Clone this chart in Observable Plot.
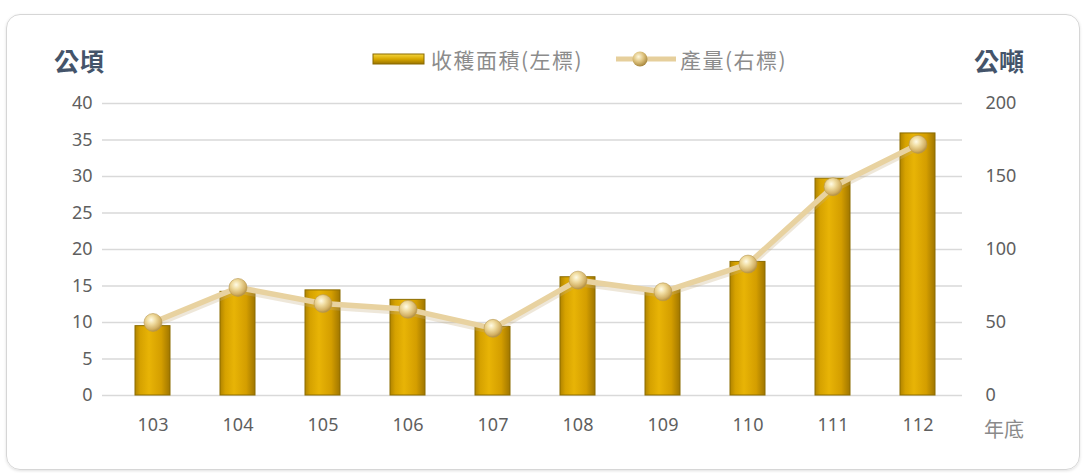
<!DOCTYPE html>
<html>
<head>
<meta charset="utf-8">
<script src="https://cdn.jsdelivr.net/npm/d3@7"></script>
<script src="https://cdn.jsdelivr.net/npm/@observablehq/plot@0.6"></script>
<style>
  html, body { margin: 0; padding: 0; background: #fff; }
  #wrap { position: relative; width: 1084px; height: 473px; overflow: hidden; font-family: "Noto Sans CJK TC", "Noto Sans", sans-serif; }
  #card { position: absolute; left: 6px; top: 14px; width: 1072px; height: 454px; border: 1px solid #d6d6d6; border-radius: 14px; box-shadow: 0 1px 3px rgba(0,0,0,0.12); }
  .unit { position: absolute; top: 44px; font-size: 25px; line-height: 32px; font-weight: bold; color: #44546a; }
  .leg { position: absolute; top: 44px; font-size: 21px; line-height: 30px; letter-spacing: 1.5px; color: #8c8c8c; white-space: nowrap; }
  .sw { position: absolute; }
  #plot { position: absolute; left: 0; top: 85px; }
  #xunit { position: absolute; left: 984px; top: 415px; font-size: 20px; line-height: 28px; color: #8a8a8a; }
</style>
</head>
<body>
<div id="wrap">
  <div id="card"></div>
  <div class="unit" style="left:54px">公頃</div>
  <div class="unit" style="left:974px">公噸</div>
  <svg class="sw" style="left:372px;top:52px" width="54" height="14"><defs><linearGradient id="lg1" x1="0" y1="0" x2="0" y2="1"><stop offset="0" stop-color="#f5d640"/><stop offset="0.5" stop-color="#d8a800"/><stop offset="1" stop-color="#9a7400"/></linearGradient></defs><rect x="1" y="2" width="51" height="10" fill="url(#lg1)" stroke="#8a6a00" stroke-width="1"/></svg>
  <div class="leg" style="left:431px">收穫面積(左標)</div>
  <svg class="sw" style="left:616px;top:49px" width="62" height="20"><defs><radialGradient id="lg2" cx="0.4" cy="0.35" r="0.65"><stop offset="0" stop-color="#fff8dc"/><stop offset="0.55" stop-color="#dcc07a"/><stop offset="1" stop-color="#a88840"/></radialGradient></defs><line x1="0" y1="10" x2="60" y2="10" stroke="#e6cf9c" stroke-width="5"/><circle cx="24" cy="10" r="7.5" fill="url(#lg2)"/></svg>
  <div class="leg" style="left:680px">產量(右標)</div>
  <div id="plot"></div>
  <div id="xunit">年底</div>
</div>
<script>
const years = ["103","104","105","106","107","108","109","110","111","112"];
const area = [9.5, 14.2, 14.4, 13.1, 9.4, 16.2, 14.6, 18.3, 29.7, 35.9];
const production = [50, 74, 63, 59, 46, 79, 71, 90, 143, 172];
const leftTicks = [0, 5, 10, 15, 20, 25, 30, 35, 40];
const rightTicks = [0, 50, 100, 150, 200];

const ratio = 5; // right axis / left axis
const bars = years.map((y, i) => ({year: y, area: area[i]}));
const pts = years.map((y, i) => ({year: y, prod: production[i], yv: production[i] / ratio}));

const tickColor = "#5f5f5f";
const chart = Plot.plot({
  width: 1084,
  height: 370,
  marginLeft: 110,
  marginRight: 124,
  marginTop: 18,
  marginBottom: 60,
  style: {fontFamily: '"Noto Sans", "Noto Sans CJK TC", sans-serif', fontSize: "18px", color: tickColor, background: "transparent"},
  x: {domain: years, paddingInner: 0.59, paddingOuter: 0.295, label: null},
  y: {domain: [0, 40], label: null},
  marks: [
    Plot.ruleY(leftTicks, {stroke: "#d9d9d9", strokeWidth: 1.5, insetLeft: -8, insetRight: -2}),
    Plot.axisX({tickSize: 0, tickPadding: 23, fontSize: 18, fill: tickColor}),
    Plot.axisY(leftTicks, {anchor: "left", tickSize: 0, tickPadding: 18, fontSize: 18, fill: tickColor, label: null}),
    Plot.axisY(rightTicks.map(d => d / ratio), {anchor: "right", tickSize: 0, tickPadding: 25, fontSize: 18, fill: tickColor, label: null, tickFormat: d => d * ratio}),
    Plot.barY(bars, {x: "year", y: "area", fill: "url(#barGrad)", stroke: "#8c6c00", strokeWidth: 1}),
    Plot.line(pts, {x: "year", y: "yv", stroke: "#c8b080", strokeOpacity: 0.3, strokeWidth: 6, dy: 3}),
    Plot.line(pts, {x: "year", y: "yv", stroke: "#e8d2a0", strokeWidth: 5.5}),
    Plot.dot(pts, {x: "year", y: "yv", r: 9, fill: "url(#dotGrad)", stroke: "#b89850", strokeWidth: 0.6})
  ]
});

const defs = d3.select(chart).insert("defs", ":first-child");
const bg = defs.append("linearGradient").attr("id", "barGrad").attr("x1", 0).attr("x2", 1).attr("y1", 0).attr("y2", 0);
[["0", "#b08400"], ["0.15", "#d6a200"], ["0.4", "#e8b406"], ["0.75", "#d49e00"], ["1", "#a07600"]].forEach(([o, c]) => bg.append("stop").attr("offset", o).attr("stop-color", c));
const rg = defs.append("radialGradient").attr("id", "dotGrad").attr("cx", 0.4).attr("cy", 0.35).attr("r", 0.7);
[["0", "#fffbe6"], ["0.35", "#f0dca0"], ["0.75", "#d2b064"], ["1", "#a8863c"]].forEach(([o, c]) => rg.append("stop").attr("offset", o).attr("stop-color", c));

document.getElementById("plot").appendChild(chart);
</script>
</body>
</html>
